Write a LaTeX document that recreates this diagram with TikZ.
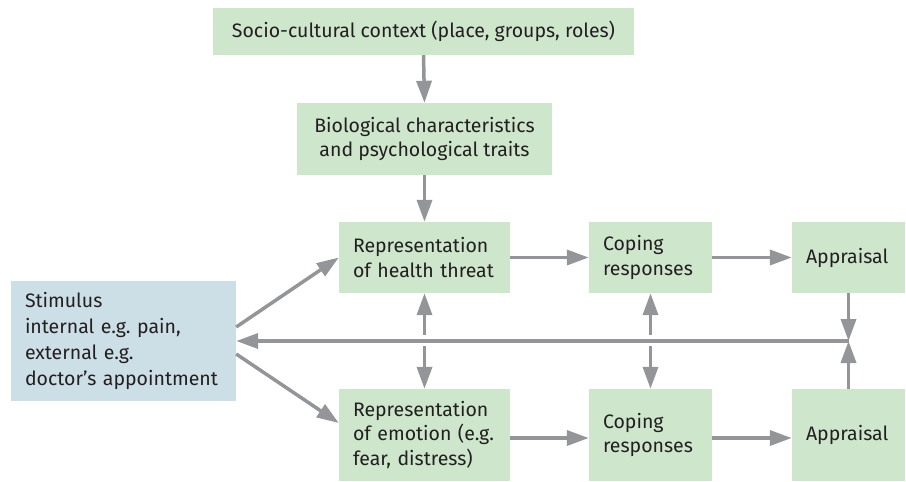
\documentclass[tikz,border=0pt]{standalone}
\usepackage{fontspec}
\setmainfont{Fira Sans}
\usetikzlibrary{arrows.meta}
\definecolor{boxgreen}{RGB}{205,230,204}
\definecolor{boxblue}{RGB}{204,222,230}
\definecolor{arrowgray}{RGB}{147,149,152}
\definecolor{inkdark}{RGB}{35,31,32}
\frenchspacing
\begin{document}
\begin{tikzpicture}[x=1pt,y=-1pt,
  font=\fontsize{19.5}{24.5}\selectfont,
  box/.style={fill=boxgreen, text=inkdark, inner xsep=14pt, inner ysep=0pt,
    align=left, anchor=center},
  conn/.style={draw=arrowgray, line width=3.5pt,
    -{Triangle[length=22pt,width=15pt]}},
  connback/.style={draw=arrowgray, line width=3.5pt,
    {Triangle[length=22pt,width=15pt]}-}]
\useasboundingbox (0,0) rectangle (906,482);

% boxes
\node[box, align=center, minimum width=421pt, minimum height=47pt] (ctx) at (423.5,31.5)
  {Socio-cultural context (place, groups, roles)};
\node[box, align=center, minimum width=255pt, minimum height=72pt] (bio) at (424.5,139)
  {Biological characteristics\\and psychological traits};
\node[box, text width=143pt, minimum height=71pt] (rep1) at (424.5,257.5)
  {Representation\\of health threat};
\node[box, text width=95pt, minimum height=71pt] (cop1) at (650.5,257.5)
  {Coping\\responses};
\node[box, text width=85pt, minimum height=71pt] (app1) at (848.5,257.5)
  {Appraisal};
\node[box, fill=boxblue, text width=197pt, minimum height=120pt,
  font=\fontsize{19.5}{25.8}\selectfont] (stim) at (123.5,341)
  {Stimulus\\internal e.g. pain,\\external e.g.\\doctor’s appointment};
\node[box, text width=143pt, minimum height=92pt] (rep2) at (424.5,435)
  {Representation\\of emotion (e.g.\\fear, distress)};
\node[box, text width=95pt, minimum height=92pt] (cop2) at (650.5,435)
  {Coping\\responses};
\node[box, text width=85pt, minimum height=92pt] (app2) at (848.5,435)
  {Appraisal};

% junction points
\coordinate (meet) at (848.5,341);
\coordinate (r1gap) at (424.5,335);
\coordinate (r2gap) at (424.5,346);
\coordinate (c1gap) at (650.5,335);
\coordinate (c2gap) at (650.5,346);

% downward chain
\draw[conn] (ctx.south) -- (bio.north);
\draw[conn] (bio.south) -- (rep1.north);

% stimulus to representations
\draw[conn] ([yshift=14pt]stim.east) -- (rep1.west);
\draw[conn] ([yshift=-13pt]stim.east) -- ([yshift=12pt]rep2.west);

% along the rows
\draw[conn] (rep1) -- (cop1);
\draw[conn] (cop1) -- (app1);
\draw[conn] (rep2.east |- 0,438) -- (cop2.west |- 0,438);
\draw[conn] (cop2.east |- 0,438) -- (app2.west |- 0,438);

% two-way links between the rows, broken where the feedback line crosses
\draw[connback] (rep1.south) -- (r1gap);
\draw[conn] (r2gap) -- (rep2.north);
\draw[connback] (cop1.south) -- (c1gap);
\draw[conn] (c2gap) -- (cop2.north);

% feedback from appraisal to stimulus
\draw[conn] (app1.south) -- (meet);
\draw[conn] (app2.north) -- (meet);
\draw[conn] (meet) -- (stim.east);
\end{tikzpicture}
\end{document}
